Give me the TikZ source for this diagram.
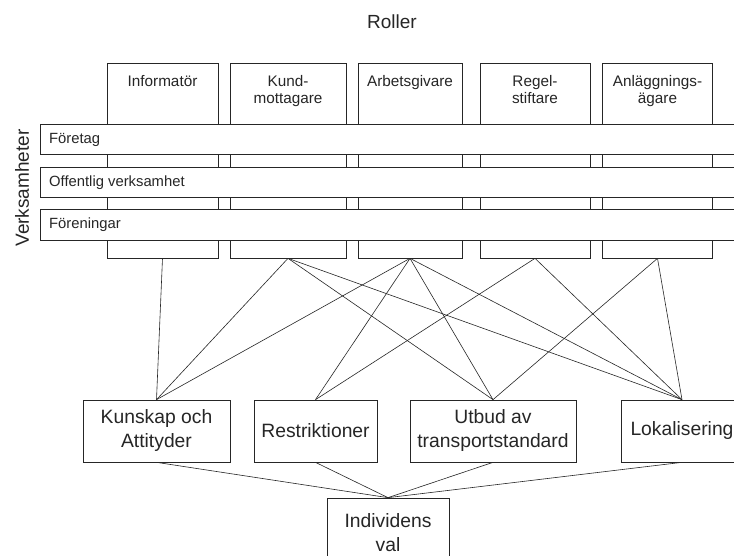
\documentclass[tikz,border=0pt]{standalone}
\usepackage{fontspec}
\setmainfont{Liberation Sans}
\begin{document}
\begin{tikzpicture}[x=1pt,y=-1pt,
  line/.style={draw=black!85, line width=0.7pt},
  rolebox/.style={line, rectangle, minimum width=#1, minimum height=195pt, inner sep=0pt},
  roletext/.style={text=black!85, font=\fontsize{15.3}{17.5}\selectfont, align=center, inner sep=0pt, anchor=north},
  bar/.style={line, rectangle, fill=white, minimum width=700pt, minimum height=#1, inner sep=0pt},
  bartext/.style={text=black!85, font=\fontsize{14.8}{17}\selectfont, anchor=west, inner sep=0pt},
  bigbox/.style={line, rectangle, minimum width=#1, minimum height=62pt, inner sep=0pt, align=center, text=black!85, font=\fontsize{19.3}{24}\selectfont},
  title/.style={text=black!85, font=\fontsize{19}{23}\selectfont, inner sep=0pt},
  conn/.style={draw=black!85, line width=0.6pt}]
\clip (0,0) rectangle (734,556);
\fill[white] (0,0) rectangle (734,556);
% titles
\node[title] (roller) at (392,22) {Roller};
\node[title, rotate=90] (verk) at (22,188) {Verksamheter};
% role boxes
\node[rolebox=111pt] (inf) at (162.5,160.5) {};
\node[rolebox=116pt] (kund) at (288,160.5) {};
\node[rolebox=104pt] (arb) at (410,160.5) {};
\node[rolebox=110pt] (reg) at (535,160.5) {};
\node[rolebox=110pt] (anl) at (657.5,160.5) {};
\node[roletext] (tinf) at (162.5,75) {Informatör};
\node[roletext] (tkund) at (288,75) {Kund-\\mottagare};
\node[roletext] (tarb) at (410,75) {Arbetsgivare};
\node[roletext] (treg) at (535,75) {Regel-\\stiftare};
\node[roletext] (tanl) at (657.5,75) {Anläggnings-\\ägare};
% bars
\node[bar=30pt] (b1) at (390,139) {};
\node[bar=30pt] (b2) at (390,182) {};
\node[bar=31pt] (b3) at (390,224.5) {};
\node[bartext] (tb1) at (49,140) {Företag};
\node[bartext] (tb2) at (49,183) {Offentlig verksamhet};
\node[bartext] (tb3) at (49,225) {Föreningar};
% bottom boxes
\node[bigbox=147pt] (kun) at (156.5,431) {Kunskap och\\Attityder};
\node[bigbox=123pt] (res) at (315.5,431) {Restriktioner};
\node[bigbox=166pt] (utb) at (493,431) {Utbud av\\transportstandard};
\node[bigbox=122pt] (lok) at (682,431) {Lokalisering};
\node[bigbox=122pt, minimum height=70pt] (ind) at (388,533) {Individens\\val};
% connectors
\draw[conn] (inf.south) -- (kun.north);
\draw[conn] (kund.south) -- (kun.north);
\draw[conn] (kund.south) -- (utb.north);
\draw[conn] (kund.south) -- (lok.north);
\draw[conn] (arb.south) -- (kun.north);
\draw[conn] (arb.south) -- (res.north);
\draw[conn] (arb.south) -- (utb.north);
\draw[conn] (arb.south) -- (lok.north);
\draw[conn] (reg.south) -- (res.north);
\draw[conn] (reg.south) -- (lok.north);
\draw[conn] (anl.south) -- (utb.north);
\draw[conn] (anl.south) -- (lok.north);
\draw[conn] (kun.south) -- (ind.north);
\draw[conn] (res.south) -- (ind.north);
\draw[conn] (utb.south) -- (ind.north);
\draw[conn] (lok.south) -- (ind.north);
\end{tikzpicture}
\end{document}
